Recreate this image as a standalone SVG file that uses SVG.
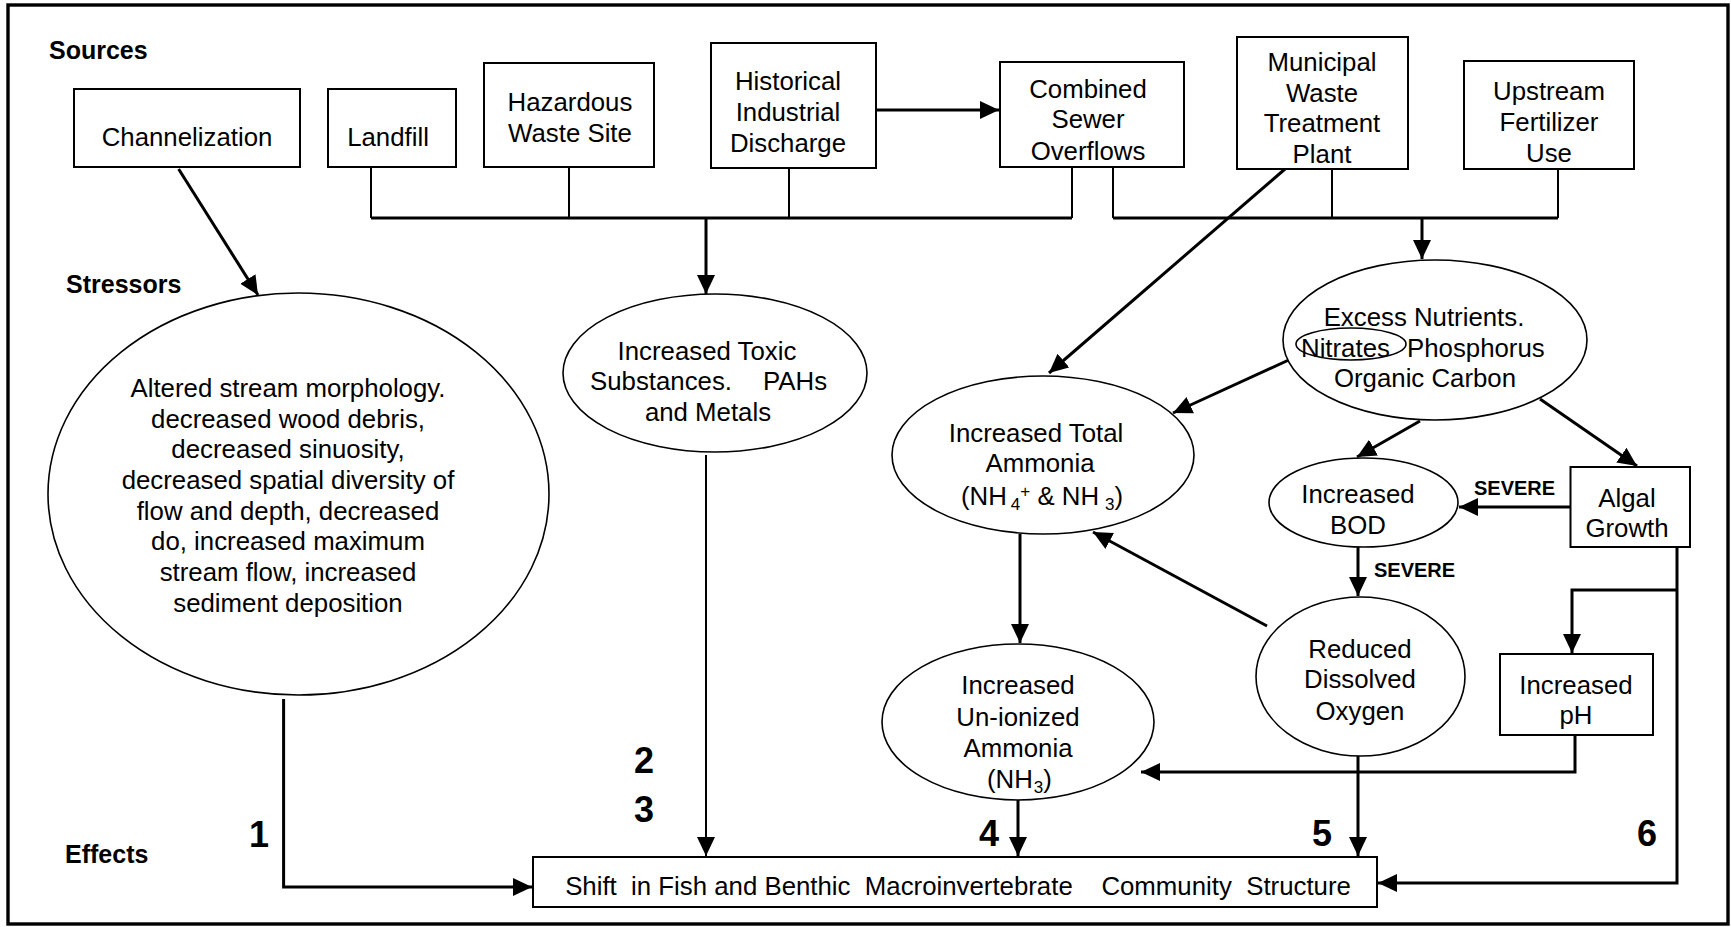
<svg xmlns="http://www.w3.org/2000/svg" width="1731" height="927" viewBox="0 0 1731 927">
<defs>
<marker id="ah" markerUnits="userSpaceOnUse" markerWidth="22" markerHeight="20" refX="19" refY="9" orient="auto">
<path d="M0,0 L19,9 L0,18 z" fill="#000"/>
</marker>
<style>
text{font-family:"Liberation Sans",Arial,sans-serif;font-size:25.8px;fill:#000}
.c{text-anchor:middle}
.lbl{font-weight:bold;font-size:25px}
.num{font-weight:bold;font-size:36px}
.sev{font-weight:bold;font-size:20px}
.box{fill:#fff;stroke:#000;stroke-width:2}
.ell{fill:#fff;stroke:#000;stroke-width:1.6}
.ln{fill:none;stroke:#000;stroke-width:3}
.thin{fill:none;stroke:#000;stroke-width:2}
.ar{marker-end:url(#ah)}
.sub{font-size:17px}
</style>
</defs>
<rect x="0" y="0" width="1731" height="927" fill="#fff"/>
<rect x="8" y="5" width="1720" height="919" fill="none" stroke="#000" stroke-width="3.4"/>

<g id="labels">
<text class="lbl" x="49" y="59">Sources</text>
<text class="lbl" x="66" y="293">Stressors</text>
<text class="lbl" x="65" y="863">Effects</text>
<text class="num" x="249" y="847">1</text>
<text class="num" x="634" y="773">2</text>
<text class="num" x="634" y="822">3</text>
<text class="num" x="979" y="846">4</text>
<text class="num" x="1312" y="846">5</text>
<text class="num" x="1637" y="846">6</text>
</g>

<g id="connectors">
<line class="ln ar" x1="178.6" y1="169" x2="258" y2="295"/>
<path class="thin" d="M371,167 V218"/>
<path class="thin" d="M569,166 V218"/>
<path class="thin" d="M789,168 V218"/>
<path class="thin" d="M1072,167 V218"/>
<path class="ln" d="M371,218 H1072"/>
<line class="ln ar" x1="706" y1="218" x2="706" y2="294"/>
<path class="thin" d="M1113,166 V218"/>
<path class="thin" d="M1332,169 V218"/>
<path class="thin" d="M1558,169 V218"/>
<path class="ln" d="M1113,218 H1558"/>
<line class="ln ar" x1="1422" y1="218" x2="1422" y2="259"/>
<line class="ln ar" x1="876" y1="110" x2="999" y2="110"/>
<line class="ln ar" x1="1285" y1="169" x2="1049" y2="373"/>
<line class="ln ar" x1="1304" y1="353" x2="1173" y2="413"/>
<line class="ln ar" x1="1420" y1="421" x2="1357" y2="457"/>
<line class="ln ar" x1="1540" y1="399" x2="1637" y2="466"/>
<line class="ln ar" x1="1570" y1="507" x2="1459" y2="507"/>
<text class="sev" x="1474" y="495">SEVERE</text>
<line class="ln ar" x1="1358" y1="547" x2="1358" y2="596"/>
<text class="sev" x="1374" y="577">SEVERE</text>
<line class="ln ar" x1="1267" y1="626" x2="1093" y2="532"/>
<line class="ln ar" x1="1020" y1="534" x2="1020" y2="643"/>
<line class="ln ar" x1="1018" y1="800" x2="1018" y2="856"/>
<line class="ln ar" x1="1358" y1="756" x2="1358" y2="856"/>
<path class="ln ar" d="M1575,735 V772 H1141"/>
<path class="ln ar" d="M1677,547 V883 H1378"/>
<path class="ln ar" d="M1677,590 H1572 V653"/>
<line class="thin ar" x1="706" y1="455" x2="706" y2="856"/>
<path class="ln ar" d="M283.6,699 V887 H532"/>
</g>

<g id="channelization">
<rect class="box" x="74" y="89" width="226" height="78"/>
<text class="c" x="187" y="146">Channelization</text>
</g>
<g id="landfill">
<rect class="box" x="328" y="89" width="128" height="78"/>
<text class="c" x="388" y="146">Landfill</text>
</g>
<g id="hazardous">
<rect class="box" x="484" y="63" width="170" height="104"/>
<text class="c" x="570" y="111">Hazardous</text>
<text class="c" x="570" y="142">Waste Site</text>
</g>
<g id="historical">
<rect class="box" x="711" y="43" width="165" height="125"/>
<text class="c" x="788" y="90">Historical</text>
<text class="c" x="788" y="121">Industrial</text>
<text class="c" x="788" y="152">Discharge</text>
</g>
<g id="combined">
<rect class="box" x="1000" y="62" width="184" height="105"/>
<text class="c" x="1088" y="98">Combined</text>
<text class="c" x="1088" y="128">Sewer</text>
<text class="c" x="1088" y="160">Overflows</text>
</g>
<g id="municipal">
<rect class="box" x="1237" y="37" width="171" height="132"/>
<text class="c" x="1322" y="71">Municipal</text>
<text class="c" x="1322" y="102">Waste</text>
<text class="c" x="1322" y="132">Treatment</text>
<text class="c" x="1322" y="163">Plant</text>
</g>
<g id="upstream">
<rect class="box" x="1464" y="61" width="170" height="108"/>
<text class="c" x="1549" y="100">Upstream</text>
<text class="c" x="1549" y="131">Fertilizer</text>
<text class="c" x="1549" y="162">Use</text>
</g>

<g id="altered">
<ellipse class="ell" cx="298.5" cy="494" rx="250.5" ry="201"/>
<text class="c" x="288" y="397">Altered stream morphology.</text>
<text class="c" x="288" y="428">decreased wood debris,</text>
<text class="c" x="288" y="458">decreased sinuosity,</text>
<text class="c" x="288" y="489">decreased spatial diversity of</text>
<text class="c" x="288" y="520">flow and depth, decreased</text>
<text class="c" x="288" y="550">do, increased maximum</text>
<text class="c" x="288" y="581">stream flow, increased</text>
<text class="c" x="288" y="612">sediment deposition</text>
</g>
<g id="toxic">
<ellipse class="ell" cx="715" cy="373" rx="152" ry="79"/>
<text class="c" x="707" y="360">Increased Toxic</text>
<text x="590" y="390">Substances.</text>
<text x="763" y="390">PAHs</text>
<text class="c" x="708" y="421">and Metals</text>
</g>
<g id="total-ammonia">
<ellipse class="ell" cx="1043" cy="455" rx="151" ry="79"/>
<text class="c" x="1036" y="442">Increased Total</text>
<text class="c" x="1040" y="472">Ammonia</text>
<text x="961" y="505">(NH<tspan class="sub" dx="4" dy="5">4</tspan><tspan class="sub" dy="-13">+</tspan><tspan dy="8"> &amp; NH</tspan><tspan class="sub" dx="6" dy="5">3</tspan><tspan dy="-5">)</tspan></text>
</g>
<g id="excess-nutrients">
<ellipse class="ell" cx="1435" cy="340" rx="152" ry="80"/>
<text class="c" x="1424" y="326">Excess Nutrients.</text>
<text x="1301" y="357">Nitrates</text>
<text x="1407" y="357">Phosphorus</text>
<text class="c" x="1425" y="387">Organic Carbon</text>
<ellipse cx="1351" cy="344" rx="55" ry="16" fill="none" stroke="#000" stroke-width="1.6"/>
</g>
<g id="bod">
<ellipse class="ell" cx="1363.5" cy="502.5" rx="94.5" ry="44.5"/>
<text class="c" x="1358" y="503">Increased</text>
<text class="c" x="1358" y="534">BOD</text>
</g>
<g id="algal">
<rect class="box" x="1570.5" y="467" width="119.5" height="80"/>
<text class="c" x="1627" y="507">Algal</text>
<text class="c" x="1627" y="537">Growth</text>
</g>
<g id="dissolved-oxygen">
<ellipse class="ell" cx="1360.5" cy="676.5" rx="104.5" ry="79.5"/>
<text class="c" x="1360" y="658">Reduced</text>
<text class="c" x="1360" y="688">Dissolved</text>
<text class="c" x="1360" y="720">Oxygen</text>
</g>
<g id="ph">
<rect class="box" x="1500" y="654" width="153" height="81"/>
<text class="c" x="1576" y="694">Increased</text>
<text class="c" x="1576" y="724">pH</text>
</g>
<g id="unionized">
<ellipse class="ell" cx="1018" cy="722" rx="136" ry="78"/>
<text class="c" x="1018" y="694">Increased</text>
<text class="c" x="1018" y="726">Un-ionized</text>
<text class="c" x="1018" y="757">Ammonia</text>
<text x="987" y="788">(NH<tspan class="sub" dx="1" dy="5">3</tspan><tspan dy="-5">)</tspan></text>
</g>
<g id="effect">
<rect class="box" x="533" y="857" width="844" height="50"/>
<text class="c" x="958" y="895" xml:space="preserve">Shift  in Fish and Benthic  Macroinvertebrate    Community  Structure</text>
</g>
</svg>
